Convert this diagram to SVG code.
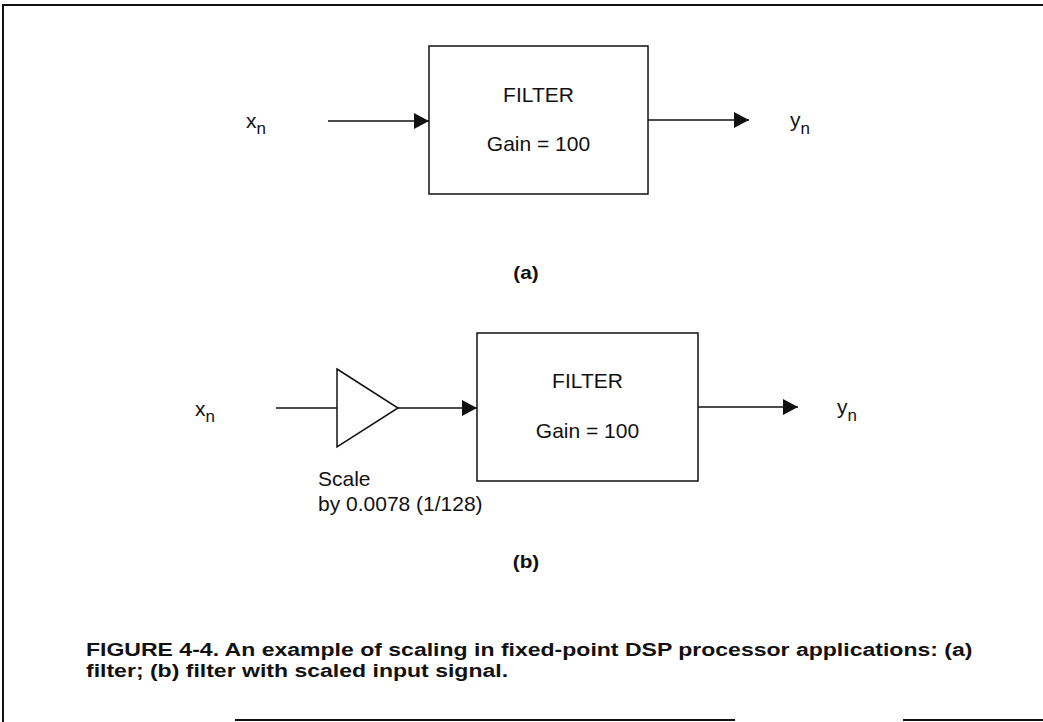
<svg xmlns="http://www.w3.org/2000/svg" width="1043" height="722" viewBox="0 0 1043 722">
  <defs>
    <style>
      .ln { fill: none; stroke: #111; stroke-width: 1.5; }
      .box { fill: #fff; stroke: #111; stroke-width: 1.5; }
      .frame { fill: none; stroke: #111; stroke-width: 2; }
      .t { font-family: "Liberation Sans", Arial, sans-serif; font-size: 21px; fill: #111; }
      .sub { font-family: "Liberation Sans", Arial, sans-serif; font-size: 17px; fill: #111; }
      .lbl { font-family: "Liberation Sans", Arial, sans-serif; font-size: 18px; font-weight: bold; fill: #111; }
      .cap { font-family: "Liberation Sans", Arial, sans-serif; font-size: 18px; font-weight: bold; fill: #111; }
    </style>
    <marker id="arrow" markerWidth="15" markerHeight="16" refX="15" refY="8" orient="auto" markerUnits="userSpaceOnUse">
      <path d="M0,0 L15,8 L0,16 Z" fill="#111"/>
    </marker>
  </defs>

  <rect width="1043" height="722" fill="#fff"/>

  <!-- page frame -->
  <g id="frame">
    <path class="frame" d="M3,722 V5 H1043"/>
    <path class="frame" d="M235,720 H735 M903,720 H1043"/>
  </g>

  <!-- (a) plain filter -->
  <g id="filter-a">
    <rect class="box" x="429" y="46" width="219" height="148"/>
    <text class="t" x="538.5" y="102" text-anchor="middle">FILTER</text>
    <text class="t" x="538.5" y="151" text-anchor="middle">Gain = 100</text>
  </g>
  <g id="xn-a"><text class="t" x="246" y="128">x<tspan class="sub" dy="6">n</tspan></text></g>
  <g id="yn-a"><text class="t" x="790" y="127">y<tspan class="sub" dy="7">n</tspan></text></g>
  <g id="label-a" transform="translate(526,279) scale(1.15,1)"><text class="lbl" x="0" y="0" text-anchor="middle">(a)</text></g>

  <!-- (b) scaled input, then filter -->
  <g id="scaler-b">
    <path class="box" d="M337,369 L398,408 L337,447 Z"/>
    <text class="t" x="318" y="486">Scale</text>
    <text class="t" x="318" y="511">by 0.0078 (1/128)</text>
  </g>
  <g id="filter-b">
    <rect class="box" x="477" y="333" width="221" height="148"/>
    <text class="t" x="587.5" y="388" text-anchor="middle">FILTER</text>
    <text class="t" x="587.5" y="438" text-anchor="middle">Gain = 100</text>
  </g>
  <g id="xn-b"><text class="t" x="195" y="416">x<tspan class="sub" dy="6">n</tspan></text></g>
  <g id="yn-b"><text class="t" x="837" y="414">y<tspan class="sub" dy="7">n</tspan></text></g>
  <g id="label-b" transform="translate(526,568) scale(1.15,1)"><text class="lbl" x="0" y="0" text-anchor="middle">(b)</text></g>

  <!-- signal connectors -->
  <g id="connectors">
    <line class="ln" x1="328" y1="121" x2="429" y2="121" marker-end="url(#arrow)"/>
    <line class="ln" x1="648" y1="120" x2="749" y2="120" marker-end="url(#arrow)"/>
    <line class="ln" x1="276" y1="408" x2="337" y2="408"/>
    <line class="ln" x1="398" y1="408" x2="477" y2="408" marker-end="url(#arrow)"/>
    <line class="ln" x1="698" y1="407" x2="798" y2="407" marker-end="url(#arrow)"/>
  </g>

  <!-- caption, bold face set wide -->
  <g id="caption" transform="translate(86,0) scale(1.28,1)">
    <text class="cap" x="0" y="656">FIGURE 4-4. An example of scaling in fixed-point DSP processor applications: (a)</text>
    <text class="cap" x="0" y="677">filter; (b) filter with scaled input signal.</text>
  </g>
</svg>
